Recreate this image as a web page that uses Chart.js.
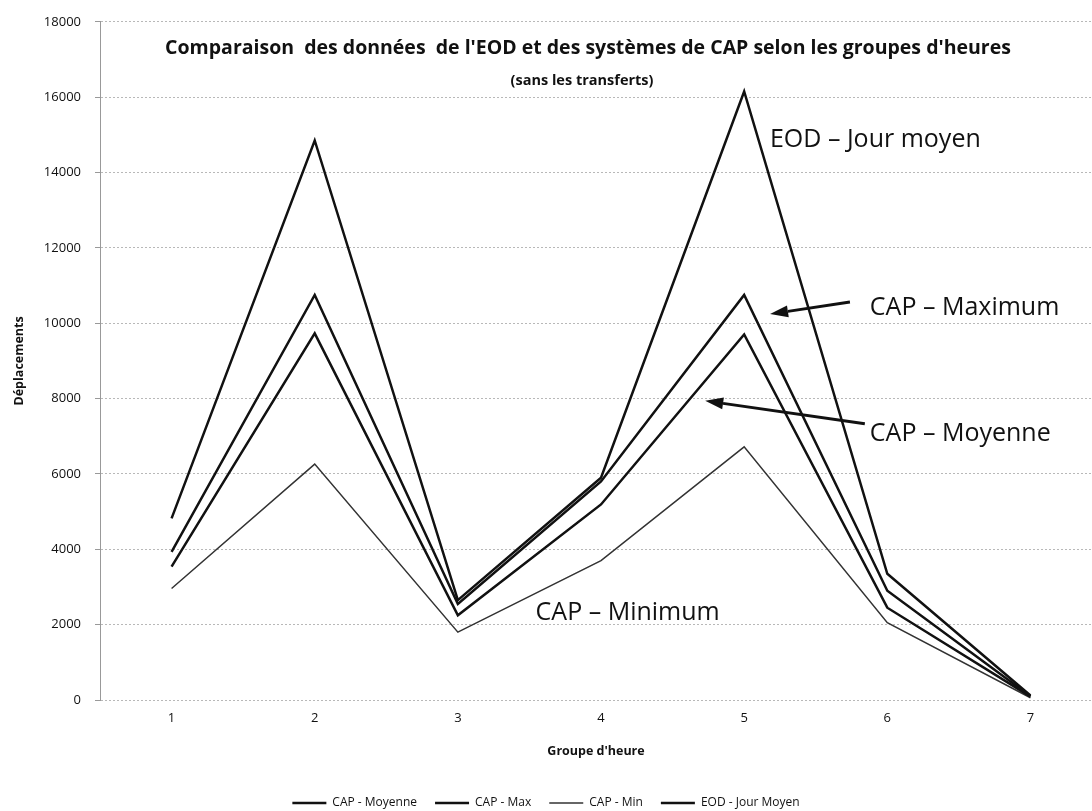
<!DOCTYPE html>
<html>
<head>
<meta charset="utf-8">
<script src="https://cdn.jsdelivr.net/npm/chart.js@4/dist/chart.umd.min.js"></script>
<style>
    html, body { margin: 0; padding: 0; background: #fff; }
    #wrap { width: 1092px; height: 811px; }
</style>
</head>
<body>
<div id="wrap"><canvas id="lineChart_CAP" width="1092" height="811"></canvas></div>
<script>
var groupes = [1, 2, 3, 4, 5, 6, 7];
var capMoyenne = [3540, 9730, 2250, 5190, 9700, 2450, 90];
var capMax = [3930, 10750, 2550, 5800, 10750, 2900, 100];
var capMin = [2960, 6260, 1800, 3700, 6720, 2050, 60];
var eodJourMoyen = [4820, 14850, 2650, 5900, 16150, 3350, 120];
var yTicks = [0, 2000, 4000, 6000, 8000, 10000, 12000, 14000, 16000, 18000];

var titre = "Comparaison  des données  de l'EOD et des systèmes de CAP selon les groupes d'heures";
var sousTitre = "(sans les transferts)";

// text labels written on the plot, placed in data units
var etiquettes = [
    {text: 'EOD – Jour moyen', x: 5.18, y: 14690},
    {text: 'CAP – Maximum', x: 5.878, y: 10218},
    {text: 'CAP – Moyenne', x: 5.878, y: 6882},
    {text: 'CAP – Minimum', x: 3.543, y: 2118}
];
var fleches = [
    {x1: 5.739, y1: 10562, x2: 5.181, y2: 10244},
    {x1: 5.843, y1: 7332, x2: 4.728, y2: 7941}
];

function serie(values) {
    return values.map(function (v, i) { return {x: groupes[i], y: v}; });
}

var FONT = "'Open Sans', 'Noto Sans', sans-serif";
var INK = '#111';

//==============================================================
var textePlugin = {
    id: 'texteLibre',
    afterDatasetsDraw: function (chart) {
        var ctx = chart.ctx;
        var sx = chart.scales.x, sy = chart.scales.y;
        ctx.save();
        ctx.fillStyle = INK;
        ctx.textAlign = 'center';
        ctx.textBaseline = 'alphabetic';
        ctx.font = 'bold 19.5px ' + FONT;
        ctx.fillText(titre, 588, 54);
        ctx.font = 'bold 14.5px ' + FONT;
        ctx.fillText(sousTitre, 582, 85);

        ctx.textAlign = 'left';
        ctx.font = '25px ' + FONT;
        etiquettes.forEach(function (e) {
            ctx.fillText(e.text, sx.getPixelForValue(e.x), sy.getPixelForValue(e.y));
        });

        ctx.strokeStyle = INK;
        ctx.lineWidth = 3;
        fleches.forEach(function (f) {
            var x1 = sx.getPixelForValue(f.x1), y1 = sy.getPixelForValue(f.y1);
            var x2 = sx.getPixelForValue(f.x2), y2 = sy.getPixelForValue(f.y2);
            var a = Math.atan2(y2 - y1, x2 - x1);
            var len = 18, half = 6;
            var bx = x2 - len * Math.cos(a), by = y2 - len * Math.sin(a);
            ctx.beginPath();
            ctx.moveTo(x1, y1);
            ctx.lineTo(bx, by);
            ctx.stroke();
            ctx.beginPath();
            ctx.moveTo(x2, y2);
            ctx.lineTo(bx + half * Math.sin(a), by - half * Math.cos(a));
            ctx.lineTo(bx - half * Math.sin(a), by + half * Math.cos(a));
            ctx.closePath();
            ctx.fill();
        });
        ctx.restore();
    }
};

var lineChartCanvas = document.getElementById('lineChart_CAP').getContext('2d');
var lineChart = new Chart(lineChartCanvas, {
    type: 'line',
    data: {
        datasets: [
            {label: 'CAP - Moyenne', data: serie(capMoyenne), borderColor: INK, backgroundColor: INK, borderWidth: 2.5},
            {label: 'CAP - Max', data: serie(capMax), borderColor: INK, backgroundColor: INK, borderWidth: 2.5},
            {label: 'CAP - Min', data: serie(capMin), borderColor: '#333', backgroundColor: '#333', borderWidth: 1.5},
            {label: 'EOD - Jour Moyen', data: serie(eodJourMoyen), borderColor: INK, backgroundColor: INK, borderWidth: 2.5}
        ]
    },
    options: {
        responsive: false,
        animation: false,
        devicePixelRatio: 1,
        elements: {
            point: {radius: 0, hoverRadius: 0},
            line: {tension: 0, fill: false, borderJoinStyle: 'miter'}
        },
        layout: {padding: {left: 0, right: 0, top: 20, bottom: -8}},
        plugins: {
            tooltip: {enabled: false},
            legend: {
                position: 'bottom',
                labels: {
                    usePointStyle: true,
                    pointStyle: 'line',
                    pointStyleWidth: 34,
                    padding: 18,
                    color: INK,
                    font: {family: FONT, size: 12}
                }
            }
        },
        scales: {
            x: {
                type: 'linear',
                min: 0.5,
                max: 7.43,
                afterBuildTicks: function (scale) {
                    scale.ticks = groupes.map(function (g) { return {value: g}; });
                },
                afterFit: function (scale) { scale.height = 79; },
                grid: {display: false},
                border: {display: false},
                ticks: {color: INK, font: {family: FONT, size: 13}, padding: 2},
                title: {display: true, text: "Groupe d'heure", color: INK, font: {family: FONT, size: 12.5, weight: 'bold'}, padding: {top: 14, bottom: 20}}
            },
            y: {
                min: 0,
                max: 18000,
                afterBuildTicks: function (scale) {
                    scale.ticks = yTicks.map(function (v) { return {value: v}; });
                },
                afterFit: function (scale) { scale.width = 100; },
                grid: {color: '#b8b8b8', lineWidth: 1, tickLength: 5, tickColor: '#999'},
                border: {display: true, color: '#999', dash: [2, 2]},
                ticks: {
                    color: INK,
                    font: {family: FONT, size: 13},
                    padding: 14,
                    callback: function (value) { return String(value); }
                },
                title: {display: true, text: 'Déplacements', color: INK, font: {family: FONT, size: 12.5, weight: 'bold'}, padding: {top: 12, bottom: 0}}
            }
        }
    },
    plugins: [textePlugin]
});
</script>
</body>
</html>
